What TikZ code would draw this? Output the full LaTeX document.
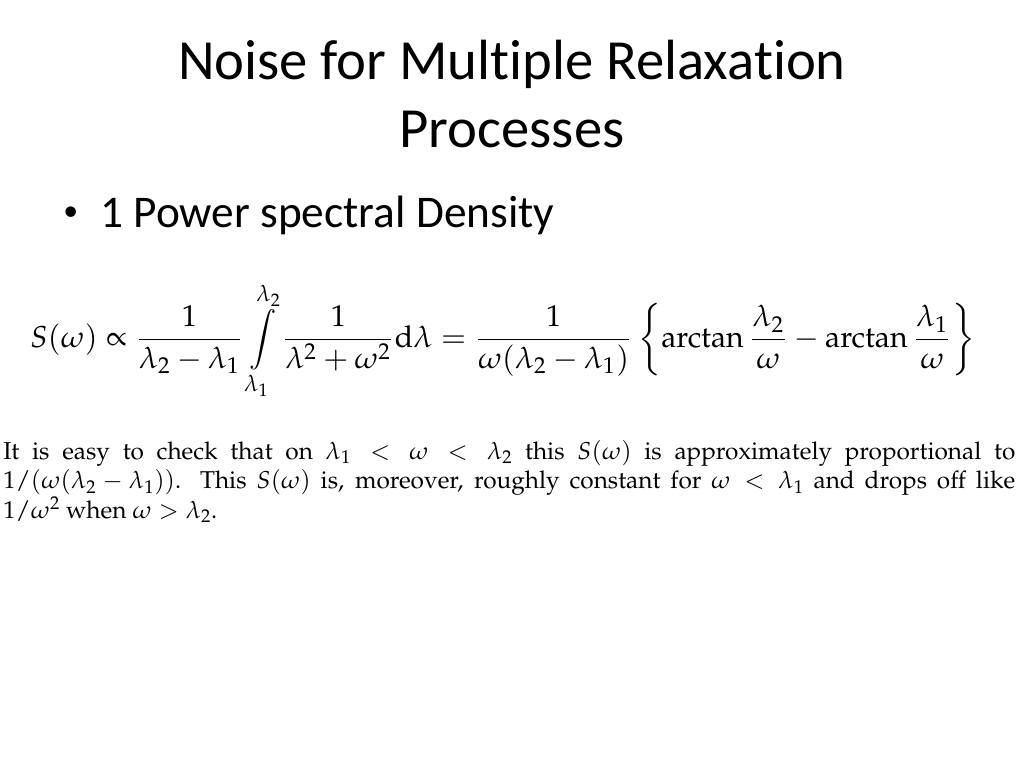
\documentclass[tikz,border=0pt]{standalone}
\usepackage{fontspec}
\usepackage[T1]{fontenc}
\usepackage{mathpazo}
\usepackage{graphicx}
\newfontfamily\slidefont[Ligatures=NoCommon]{Carlito}
\usetikzlibrary{positioning}

\begin{document}
\begin{tikzpicture}[x=0.009765625in, y=-0.009765625in, node distance=68]
  \tikzstyle{title} = [inner sep=0pt, anchor=base, font=\slidefont\fontsize{40}{48}\selectfont]
  \tikzstyle{item} = [inner sep=0pt, anchor=base west, font=\slidefont\fontsize{32}{38}\selectfont]
  \tikzstyle{body} = [inner sep=0pt, anchor=north west]

  \useasboundingbox (0,0) rectangle (1024,768);

  \node (title) [title] at (512,80) {Noise for Multiple Relaxation};
  \node (title2) [title] at (512,147) {Processes};

  \node (bullet) [item, font=\slidefont\fontsize{21}{24}\selectfont] at (63,220) {\textbullet};
  \node (density) [item] at (100,227) {1 Power spectral Density};

  % formula and its comment
  \node (formula) [body] at (30,282) {\resizebox{664.5bp}{!}{$\displaystyle
    S(\omega)\propto\frac{1}{\lambda_2-\lambda_1}\int\limits_{\lambda_1}^{\lambda_2}\frac{1}{\lambda^2+\omega^2}\mathrm{d}\lambda
    =\frac{1}{\omega(\lambda_2-\lambda_1)}\left\{\arctan\frac{\lambda_2}{\omega}-\arctan\frac{\lambda_1}{\omega}\right\}$}};
  \node (remark) [body, text width=711.6bp, align=justify, font=\fontsize{17.2}{20.8}\selectfont] at (3,440)
    {It is easy to check that on $\lambda_1<\omega<\lambda_2$ this $S(\omega)$ is approximately proportional to\linebreak
     $1/(\omega(\lambda_2-\lambda_1))$. This $S(\omega)$ is, moreover, roughly constant for $\omega<\lambda_1$ and drops off like\linebreak
     $1/\omega^2$ when $\omega>\lambda_2$.};
\end{tikzpicture}
\end{document}
